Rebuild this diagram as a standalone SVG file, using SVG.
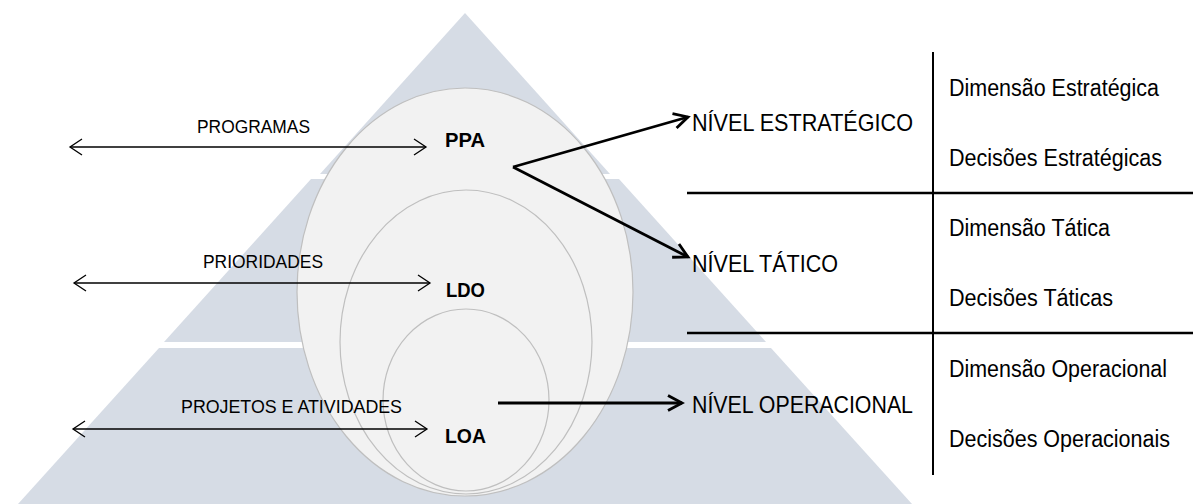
<svg xmlns="http://www.w3.org/2000/svg" width="1193" height="504" viewBox="0 0 1193 504">
  <style>
    .band { fill: #D6DCE5; }
    .ell { fill: #F2F2F2; stroke: #BFBFBF; stroke-width: 1.2; }
    .lbl { font-family: "Liberation Sans", Arial, sans-serif; font-size: 19px; fill: #000; }
    .bold { font-family: "Liberation Sans", Arial, sans-serif; font-size: 19.5px; font-weight: bold; fill: #000; }
    .lvl { font-family: "Liberation Sans", Arial, sans-serif; font-size: 24px; fill: #000; }
    .dim { font-family: "Liberation Sans", Arial, sans-serif; font-size: 23px; fill: #000; }
    .thin { stroke: #000; stroke-width: 1.3; fill: none; }
    .thick { stroke: #000; stroke-width: 2.8; fill: none; }
    .rule { stroke: #000; fill: none; }
  </style>
  <defs>
    <marker id="mThin" viewBox="-16 -11 19 22" refX="0" refY="0" markerWidth="19" markerHeight="22" markerUnits="userSpaceOnUse" orient="auto-start-reverse" overflow="visible">
      <path d="M-12,-8 L0,0 L-12,8" fill="none" stroke="#000" stroke-width="1.3"/>
    </marker>
    <marker id="mThick" viewBox="-18 -11 21 22" refX="0" refY="0" markerWidth="21" markerHeight="22" markerUnits="userSpaceOnUse" orient="auto" overflow="visible">
      <path d="M-14,-7.5 L0,0 L-14,7.5" fill="none" stroke="#000" stroke-width="2.8"/>
    </marker>
  </defs>

  <rect width="1193" height="504" fill="#FFFFFF"/>

  <g id="pyramid">
    <polygon class="band" points="465,13 610,174 320,174"/>
    <polygon class="band" points="311,179 619,179 766,342 164,342"/>
    <polygon class="band" points="159,348 771,348 912,504 18,504"/>
  </g>

  <g id="node-ppa">
    <ellipse class="ell" cx="465" cy="292" rx="168" ry="204"/>
    <text class="bold" x="445" y="147" textLength="40" lengthAdjust="spacingAndGlyphs">PPA</text>
  </g>
  <g id="node-ldo">
    <ellipse class="ell" cx="466" cy="342" rx="126" ry="152"/>
    <text class="bold" x="446" y="297" textLength="39" lengthAdjust="spacingAndGlyphs">LDO</text>
  </g>
  <g id="node-loa">
    <ellipse class="ell" cx="466" cy="400" rx="83" ry="91"/>
    <text class="bold" x="445" y="443" textLength="41" lengthAdjust="spacingAndGlyphs">LOA</text>
  </g>

  <g id="labels">
    <text class="lbl" x="197" y="133" textLength="113" lengthAdjust="spacingAndGlyphs">PROGRAMAS</text>
    <text class="lbl" x="203" y="268" textLength="120" lengthAdjust="spacingAndGlyphs">PRIORIDADES</text>
    <text class="lbl" x="181" y="412.5" textLength="221" lengthAdjust="spacingAndGlyphs">PROJETOS E ATIVIDADES</text>
  </g>

  <g id="levels">
    <text class="lvl" x="692" y="131" textLength="221" lengthAdjust="spacingAndGlyphs">NÍVEL ESTRATÉGICO</text>
    <text class="lvl" x="692" y="272" textLength="146" lengthAdjust="spacingAndGlyphs">NÍVEL TÁTICO</text>
    <text class="lvl" x="692" y="413" textLength="221" lengthAdjust="spacingAndGlyphs">NÍVEL OPERACIONAL</text>
  </g>

  <g id="table">
    <line class="rule" x1="933" y1="52" x2="933" y2="475" stroke-width="2"/>
    <line class="rule" x1="687" y1="193" x2="1193" y2="193" stroke-width="2.6"/>
    <line class="rule" x1="687" y1="333" x2="1193" y2="333" stroke-width="2.6"/>
    <text class="dim" x="949" y="96" textLength="210" lengthAdjust="spacingAndGlyphs">Dimensão Estratégica</text>
    <text class="dim" x="949" y="166" textLength="213" lengthAdjust="spacingAndGlyphs">Decisões Estratégicas</text>
    <text class="dim" x="949" y="236" textLength="161" lengthAdjust="spacingAndGlyphs">Dimensão Tática</text>
    <text class="dim" x="949" y="306" textLength="164" lengthAdjust="spacingAndGlyphs">Decisões Táticas</text>
    <text class="dim" x="949" y="377" textLength="218" lengthAdjust="spacingAndGlyphs">Dimensão Operacional</text>
    <text class="dim" x="949" y="447" textLength="221" lengthAdjust="spacingAndGlyphs">Decisões Operacionais</text>
  </g>

  <g id="connectors">
    <line class="thin" x1="70" y1="147" x2="426" y2="147" marker-start="url(#mThin)" marker-end="url(#mThin)"/>
    <line class="thin" x1="74" y1="283" x2="430" y2="283" marker-start="url(#mThin)" marker-end="url(#mThin)"/>
    <line class="thin" x1="73" y1="429" x2="427" y2="429" marker-start="url(#mThin)" marker-end="url(#mThin)"/>
    <line class="thick" x1="513" y1="167" x2="688" y2="117" marker-end="url(#mThick)"/>
    <line class="thick" x1="513" y1="167" x2="688" y2="257" marker-end="url(#mThick)"/>
    <line class="thick" x1="498" y1="403" x2="682" y2="403" marker-end="url(#mThick)"/>
  </g>
</svg>
